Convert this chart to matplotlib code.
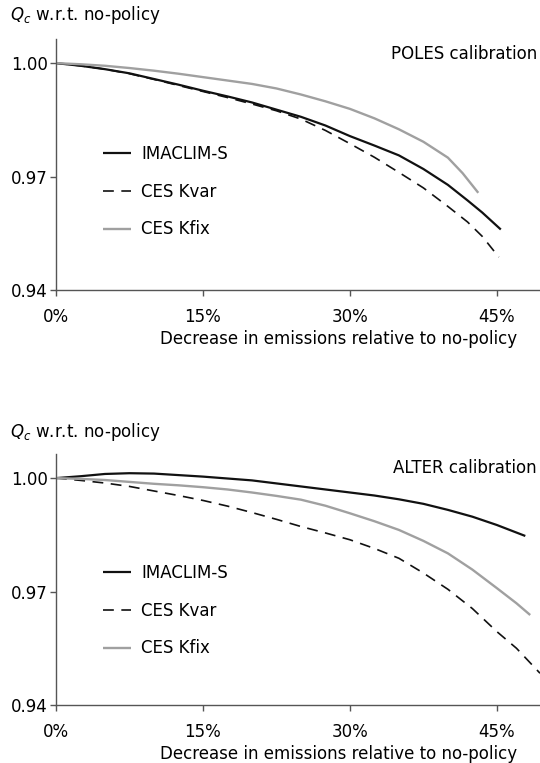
import matplotlib
matplotlib.use("Agg")
import matplotlib.pyplot as plt

plt.rcParams['font.family'] = ['DejaVu Sans']
plt.rcParams['mathtext.fontset'] = 'dejavusans'

# ---------------- data ----------------
series_names = ["IMACLIM-S", "CES Kvar", "CES Kfix"]
x_ticks = [0, 15, 30, 45]
x_tick_labels = ["0%", "15%", "30%", "45%"]
y_ticks = [0.94, 0.97, 1.00]
y_tick_labels = ["0.94", "0.97", "1.00"]

# POLES calibration
poles_imaclim_x = [0, 2.5, 5, 7.5, 10, 12.5, 15, 17.5, 20, 22.5, 25, 27.5, 30, 32.5, 35, 37.5, 40, 42, 43.5, 45.4]
poles_imaclim_y = [1.000, 0.9993, 0.9984, 0.9973, 0.9958, 0.9943, 0.9927, 0.9912, 0.9896, 0.9877, 0.9858,
                   0.9835, 0.9807, 0.9782, 0.9756, 0.9720, 0.9678, 0.9637, 0.9605, 0.9560]
poles_kvar_x = [0, 2.5, 5, 7.5, 10, 12.5, 15, 17.5, 20, 22.5, 25, 27.5, 30, 32.5, 35, 37.5, 40, 42, 43.5, 45.2]
poles_kvar_y = [1.000, 0.9993, 0.9984, 0.9972, 0.9957, 0.9941, 0.9925, 0.9909, 0.9892, 0.9874, 0.9852,
                0.9822, 0.9787, 0.9751, 0.9711, 0.9670, 0.9621, 0.9580, 0.9542, 0.9487]
poles_kfix_x = [0, 2.5, 5, 7.5, 10, 12.5, 15, 17.5, 20, 22.5, 25, 27.5, 30, 32.5, 35, 37.5, 40, 41.5, 43.1]
poles_kfix_y = [1.000, 0.9997, 0.9993, 0.9987, 0.9980, 0.9972, 0.9963, 0.9954, 0.9945, 0.9933, 0.9917,
                0.9899, 0.9879, 0.9854, 0.9825, 0.9792, 0.9750, 0.9709, 0.9657]

# ALTER calibration
alter_imaclim_x = [0, 2.5, 5, 7.5, 10, 12.5, 15, 17.5, 20, 22.5, 25, 27.5, 30, 32.5, 35, 37.5, 40, 42.5, 45, 47.9]
alter_imaclim_y = [1.000, 1.0005, 1.0011, 1.0013, 1.0012, 1.0008, 1.0004, 0.9999, 0.9994, 0.9986, 0.9978,
                   0.9970, 0.9962, 0.9954, 0.9944, 0.9932, 0.9916, 0.9898, 0.9876, 0.9847]
alter_kvar_x = [0, 2.5, 5, 7.5, 10, 12.5, 15, 17.5, 20, 22.5, 25, 27.5, 30, 32.5, 35, 37.5, 40, 42.5, 45, 47, 49.4]
alter_kvar_y = [1.000, 0.9994, 0.9987, 0.9978, 0.9966, 0.9954, 0.9941, 0.9926, 0.9909, 0.9891, 0.9872,
                0.9855, 0.9837, 0.9814, 0.9788, 0.9749, 0.9706, 0.9655, 0.9594, 0.9550, 0.9484]
alter_kfix_x = [0, 2.5, 5, 7.5, 10, 12.5, 15, 17.5, 20, 22.5, 25, 27.5, 30, 32.5, 35, 37.5, 40, 42.5, 45, 47, 48.4]
alter_kfix_y = [1.000, 0.9998, 0.9995, 0.9990, 0.9985, 0.9981, 0.9976, 0.9970, 0.9962, 0.9953, 0.9943,
                0.9927, 0.9907, 0.9886, 0.9863, 0.9834, 0.9801, 0.9758, 0.9709, 0.9669, 0.9638]

panels = [
    ("POLES calibration", (poles_imaclim_x, poles_imaclim_y), (poles_kvar_x, poles_kvar_y), (poles_kfix_x, poles_kfix_y)),
    ("ALTER calibration", (alter_imaclim_x, alter_imaclim_y), (alter_kvar_x, alter_kvar_y), (alter_kfix_x, alter_kfix_y)),
]

# ---------------- figure ----------------
W, H = 540, 763
fig = plt.figure(figsize=(W / 100, H / 100), dpi=100)

FS = 12
black = "#111111"
gray = "#a0a0a0"
spine_c = "#555555"
dash = (0, (6.5, 4.5))

axes_px = [(56, 39.3, 290), (56, 454.3, 705)]  # left, top, bottom (pixels)
title_y = [15, 432]
calib_y = [54, 468]
legend_top = [145, 564]

for i, (calib, s1, s2, s3) in enumerate(panels):
    left, top, bottom = axes_px[i]
    ax = fig.add_axes([left / W, 1 - bottom / H, (W - left) / W, (bottom - top) / H])
    ax.plot(s1[0], s1[1], color=black, lw=1.6, solid_capstyle='butt', label=series_names[0])
    ax.plot(s2[0], s2[1], color=black, lw=1.2, linestyle=dash, label=series_names[1])
    ax.plot(s3[0], s3[1], color=gray, lw=1.7, solid_capstyle='butt', label=series_names[2])
    ax.set_xlim(0, 49.4)
    ax.set_ylim(0.94, 1.0063)
    ax.set_xticks(x_ticks)
    ax.set_xticklabels(x_tick_labels)
    ax.set_yticks(y_ticks)
    ax.set_yticklabels(y_tick_labels)
    for sp in ["top", "right"]:
        ax.spines[sp].set_visible(False)
    for sp in ["left", "bottom"]:
        ax.spines[sp].set_color(spine_c)
        ax.spines[sp].set_linewidth(1.0)
    ax.tick_params(axis='x', direction='out', length=4, width=1, color=spine_c, pad=9, labelsize=FS)
    ax.tick_params(axis='y', direction='out', length=4, width=1, color=spine_c, pad=2, labelsize=FS)
    ax.set_xlabel("Decrease in emissions relative to no-policy", fontsize=FS, ha='right')
    ax.xaxis.label.set_position(((517 - left) / (W - left), 0))
    ax.xaxis.labelpad = 3
    ax.text(537 / W, 1 - calib_y[i] / H, calib, transform=fig.transFigure,
            ha='right', va='center', fontsize=FS)
    fig.text(10 / W, 1 - title_y[i] / H, r"$Q_c$ w.r.t. no-policy", ha='left', va='center', fontsize=FS)
    ax.legend(loc='upper left', bbox_to_anchor=(103 / W, 1 - legend_top[i] / H),
              bbox_transform=fig.transFigure, frameon=False, fontsize=FS,
              handlelength=1.68, handletextpad=0.6, labelspacing=1.18, borderpad=0, borderaxespad=0)

fig.savefig("out.png", dpi=100)
